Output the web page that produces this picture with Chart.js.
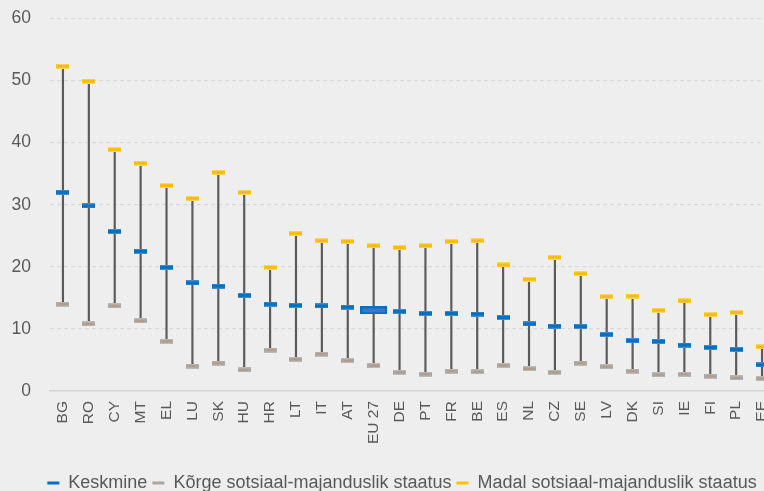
<!DOCTYPE html>
<html>
<head>
<meta charset="utf-8">
<script src="https://cdn.jsdelivr.net/npm/chart.js@4/dist/chart.umd.min.js"></script>
<style>
html,body{margin:0;padding:0;background:#eeeeee;overflow:hidden;width:764px;height:491px;}
#wrap{position:relative;top:-11px;width:804px;height:513px;}
canvas{display:block;}
</style>
</head>
<body>
<div id="wrap"><canvas id="c" width="804" height="513"></canvas></div>
<script>
const categories = ["BG","RO","CY","MT","EL","LU","SK","HU","HR","LT","IT","AT","EU 27","DE","PT","FR","BE","ES","NL","CZ","SE","LV","DK","SI","IE","FI","PL","EE"];
const meanValues = [32.0,29.8,25.7,22.5,19.9,17.4,16.9,15.4,14.0,13.8,13.7,13.5,13.0,12.8,12.5,12.5,12.4,11.85,10.8,10.45,10.4,9.1,8.1,8.0,7.4,7.0,6.7,4.2];
const highSES = [14.0,10.8,13.7,11.3,8.0,4.0,4.5,3.4,6.6,5.1,5.95,4.9,4.1,3.0,2.7,3.2,3.1,4.1,3.6,3.0,4.5,3.9,3.2,2.6,2.7,2.4,2.1,2.0];
const lowSES = [52.3,49.9,38.9,36.7,33.1,31.0,35.2,32.0,19.9,25.4,24.2,24.1,23.4,23.1,23.4,24.1,24.2,20.3,18.0,21.55,18.9,15.2,15.3,13.0,14.5,12.3,12.65,7.1];
const yTicks = [0,10,20,30,40,50,60];
const seriesNames = ["Keskmine","Kõrge sotsiaal-majanduslik staatus","Madal sotsiaal-majanduslik staatus"];
const highlightCategory = "EU 27";

function marker(w, h, edge, fill, inner) {
  const c = document.createElement('canvas');
  c.width = w; c.height = h;
  const g = c.getContext('2d');
  g.fillStyle = edge; g.fillRect(0, 0, w, h);
  g.fillStyle = fill; g.fillRect(0, 1, w, h - 2);
  if (inner) { g.fillStyle = inner; g.fillRect(3, Math.floor(h / 2), w - 6, 1); }
  return c;
}
const blueMark = marker(13, 5, '#3f8dd0', '#0070C0', null);
const grayMark = marker(13, 5, '#bdb9b5', '#a9a5a1', '#c4936f');
const yellowMark = marker(13, 5, '#ffd45a', '#FFC000', '#d9b55c');
const bigBlue = (function(){
  const c = document.createElement('canvas');
  c.width = 27; c.height = 8;
  const g = c.getContext('2d');
  g.fillStyle = '#0070C0'; g.fillRect(0, 0, 27, 8);
  g.fillStyle = '#4472C4'; g.fillRect(2, 2, 23, 4);
  return c;
})();

const whiskers = categories.map((_, i) => [highSES[i], lowSES[i]]);
const font = "'Liberation Sans', Arial, sans-serif";

new Chart(document.getElementById('c'), {
  type: 'bar',
  data: {
    labels: categories,
    datasets: [
      { type: 'line', label: seriesNames[0], data: meanValues, showLine: false,
        pointStyle: ctx => categories[ctx.dataIndex] === highlightCategory ? bigBlue : blueMark,
        backgroundColor: '#0070C0', borderColor: '#0070C0', borderWidth: 0, order: 1 },
      { type: 'line', label: seriesNames[1], data: highSES, showLine: false,
        pointStyle: grayMark, backgroundColor: '#ada59e', borderColor: '#ada59e', borderWidth: 0, order: 2 },
      { type: 'line', label: seriesNames[2], data: lowSES, showLine: false,
        pointStyle: yellowMark, backgroundColor: '#FFC000', borderColor: '#FFC000', borderWidth: 0, order: 3 },
      { type: 'bar', label: 'range', data: whiskers, backgroundColor: '#5a5a5a',
        barThickness: 1.5, order: 10 }
    ]
  },
  options: {
    responsive: false,
    animation: false,
    events: [],
    layout: { padding: { top: 6, right: 0, left: 0, bottom: 0 } },
    plugins: {
      tooltip: { enabled: false },
      legend: {
        position: 'bottom',
        labels: {
          filter: item => item.datasetIndex !== 3,
          boxWidth: 12, boxHeight: 3, padding: 5,
          color: '#595959',
          font: { family: font, size: 18 }
        }
      }
    },
    scales: {
      x: {
        grid: { display: false, drawTicks: false },
        border: { display: true, color: '#d4d4d4', width: 1.5 },
        ticks: { color: '#595959', font: { family: font, size: 15.5 }, minRotation: 90, maxRotation: 90, padding: 10, autoSkip: false },
        afterFit: s => { s.height = 78; }
      },
      y: {
        min: 0, max: 60,
        afterBuildTicks: s => { s.ticks = yTicks.map(v => ({ value: v })); },
        grid: { drawTicks: false, color: c => (c.tick && c.tick.value === 0) ? 'rgba(0,0,0,0)' : '#d9d9d9', lineWidth: 1.2 },
        border: { display: false, dash: [4, 3] },
        ticks: { color: '#595959', font: { family: font, size: 17.5 }, padding: 19 },
        afterFit: s => { s.width = 50; }
      },
      yPad: {
        type: 'linear', position: 'right', display: true,
        grid: { display: false, drawTicks: false },
        border: { display: false },
        ticks: { display: false },
        afterFit: s => { s.width = 29; }
      }
    }
  }
});
</script>
</body>
</html>
